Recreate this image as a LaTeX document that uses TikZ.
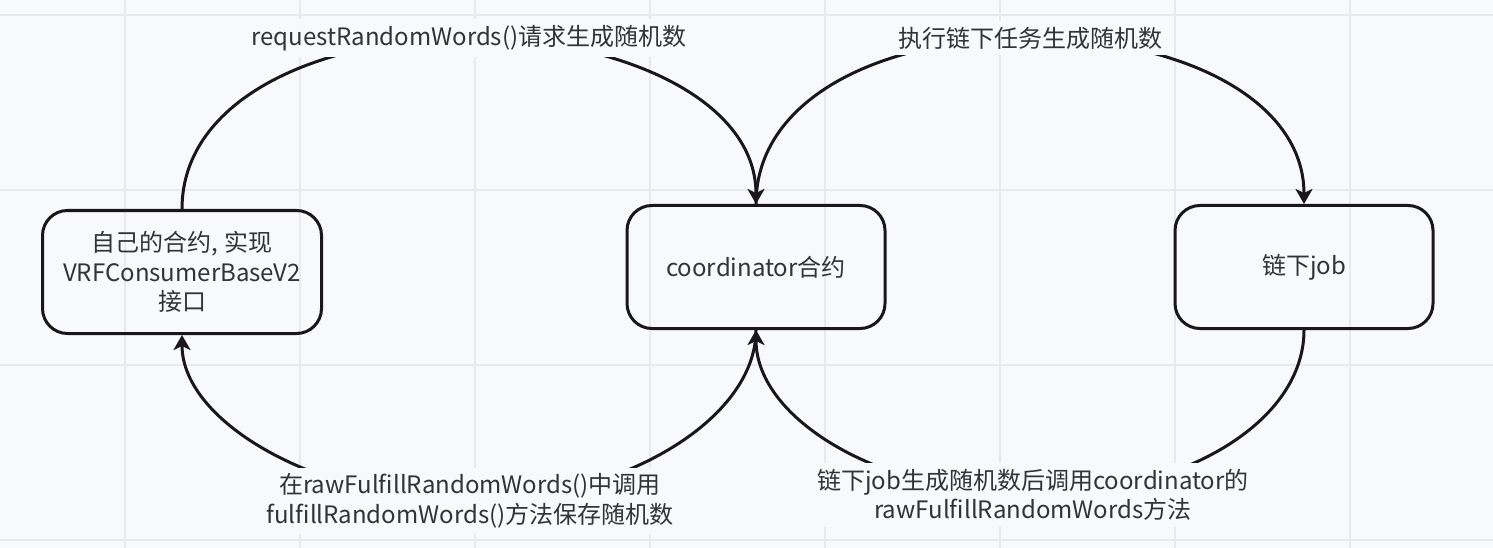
\documentclass[tikz,border=0pt]{standalone}
\usepackage{fontspec}
\setmainfont{Noto Sans CJK SC}
\usetikzlibrary{arrows.meta}
\definecolor{bg}{RGB}{248,249,250}
\definecolor{gridc}{RGB}{232,233,235}
\definecolor{ink}{RGB}{26,22,25}
\definecolor{txt}{RGB}{51,51,51}
\begin{document}
\begin{tikzpicture}[x=1pt,y=-1pt,
  box/.style={draw=ink, line width=3pt, rounded corners=25pt, minimum width=258pt,
    minimum height=123pt, align=center, text=txt, inner sep=0pt,
    font=\fontsize{24}{29.5}\selectfont},
  lbl/.style={fill=bg, text=txt, align=center, inner xsep=3pt, inner ysep=6pt,
    font=\fontsize{24}{29.5}\selectfont},
  conn/.style={draw=ink, line width=3pt},
  arr/.style={-{Stealth[length=15pt,width=17pt,inset=4pt]}}]
\useasboundingbox (0,0) rectangle (1493,548);
\fill[bg] (0,0) rectangle (1493,548);
\foreach \x in {125,300,...,1350} \draw[gridc, line width=1.5pt] (\x,0) -- (\x,548);
\foreach \y in {15,190,365,540} \draw[gridc, line width=1.5pt] (0,\y) -- (1493,\y);

\node[box, minimum width=279pt] (own) at (182,272) {自己的合约, 实现\\VRFConsumerBaseV2\\接口};
\node[box] (coord) at (756,267) {coordinator合约};
\node[box] (job) at (1304,267) {链下job};

\coordinate (l1) at (469,38);
\coordinate (l2) at (1030,38);
\coordinate (l3) at (1033,495);
\coordinate (l4) at (470,501);

\draw[conn, arr] (own.north) .. controls +(0,-110) and +(-150,0) .. (l1)
  .. controls +(150,0) and +(0,-105) .. (coord.north);
\draw[conn, arr] (coord.north) .. controls +(0,-105) and +(-150,0) .. (l2)
  .. controls +(150,0) and +(0,-105) .. (job.north);
\draw[conn, arr] (job.south) .. controls +(0,92) and +(150,0) .. (l3)
  .. controls +(-150,0) and +(0,90) .. (coord.south);
\draw[conn, arr] (coord.south) .. controls +(0,90) and +(150,0) .. (l4)
  .. controls +(-150,0) and +(0,88) .. (own.south);

\node[lbl] (t1) at (l1) {requestRandomWords()请求生成随机数};
\node[lbl] (t2) at (l2) {执行链下任务生成随机数};
\node[lbl] (t3) at (l3) {链下job生成随机数后调用coordinator的\\rawFulfillRandomWords方法};
\node[lbl] (t4) at (l4) {在rawFulfillRandomWords()中调用\\fulfillRandomWords()方法保存随机数};
\end{tikzpicture}
\end{document}
